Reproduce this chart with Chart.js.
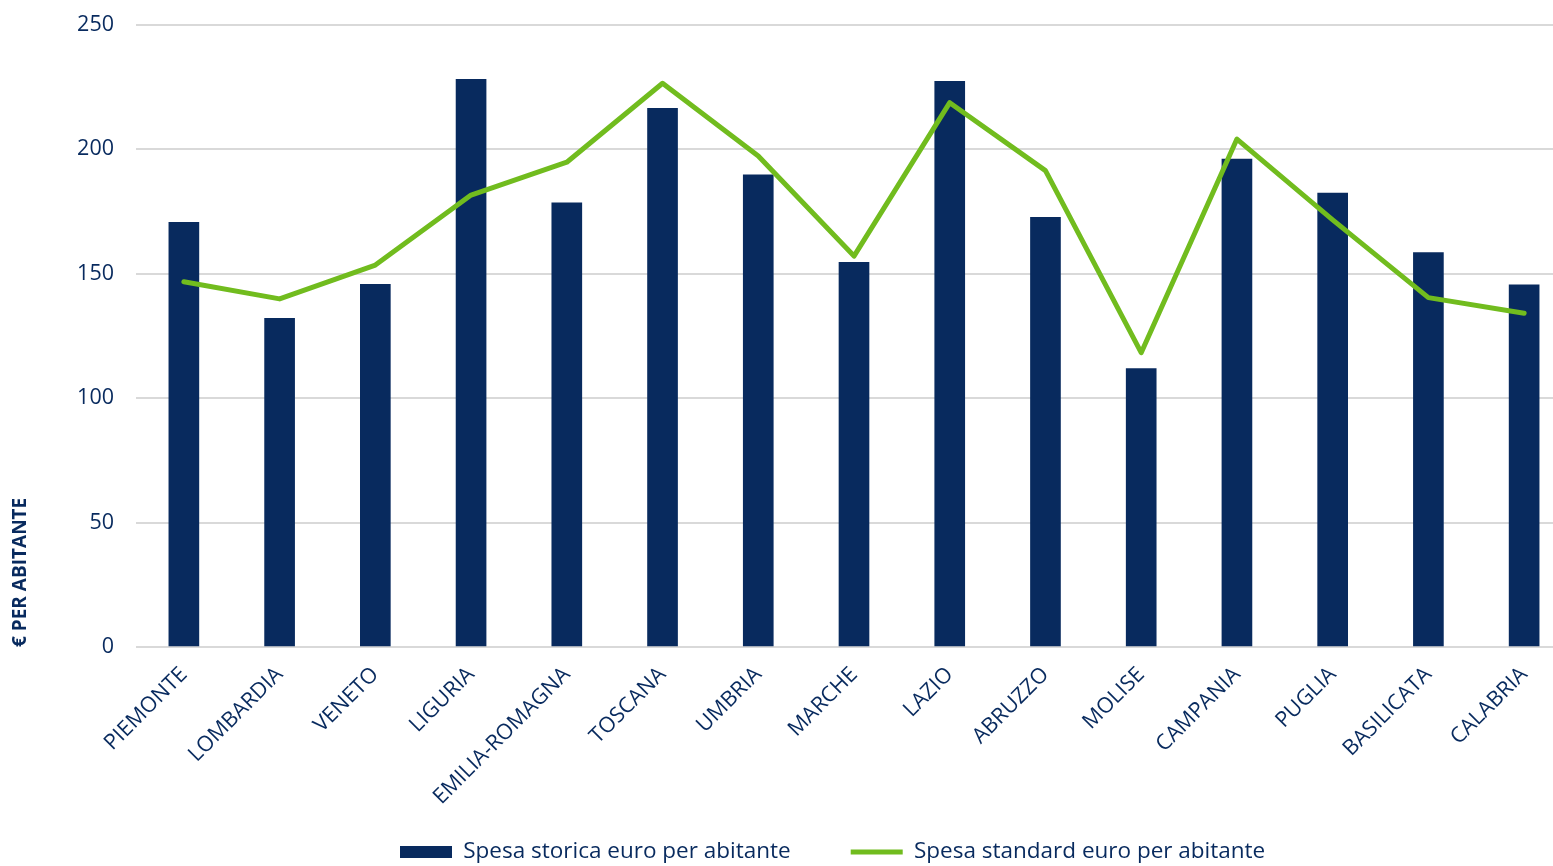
<!DOCTYPE html>
<html>
<head>
<meta charset="utf-8">
<script src="https://cdn.jsdelivr.net/npm/chart.js@4"></script>
<style>
  html, body { margin: 0; padding: 0; background: #fff; overflow: hidden; }
  #wrap { width: 1572px; height: 866px; position: relative; }
</style>
</head>
<body>
<div id="wrap"><canvas id="chart"></canvas></div>
<script>
// Spesa storica vs spesa standard, euro per abitante
const REGIONI = ['PIEMONTE', 'LOMBARDIA', 'VENETO', 'LIGURIA', 'EMILIA-ROMAGNA', 'TOSCANA', 'UMBRIA',
  'MARCHE', 'LAZIO', 'ABRUZZO', 'MOLISE', 'CAMPANIA', 'PUGLIA', 'BASILICATA', 'CALABRIA'];
const SPESA_STORICA = [170.6, 132.0, 145.7, 228.0, 178.4, 216.3, 189.6, 154.5, 227.2, 172.6, 111.8, 196.0, 182.3, 158.4, 145.4];
const SPESA_STANDARD = [146.7, 139.8, 153.4, 181.5, 194.7, 226.4, 197.2, 157.0, 218.6, 191.3, 118.2, 204.0, 171.5, 140.3, 134.0];
const Y_TICKS = [0, 50, 100, 150, 200, 250];

const NAVY = '#082a5e';
const GREEN = '#71bc1e';
const FONT = '"Open Sans", sans-serif';
const LEGEND_FONT = 22.5;
const LEGEND_GAP = 60;

// legend sits lower and further right than Chart.js would put it;
// the x scale box is short, so let its rotated labels run past it
const legendPlace = {
  id: 'legendPlace',
  afterLayout(chart) {
    const lg = chart.legend;
    if (lg) {
      lg.left = 400 - LEGEND_GAP;
      lg.top = 852 - LEGEND_GAP - LEGEND_FONT / 2;
    }
    chart.scales.x.bottom = chart.height;
  },
};

const ctx = document.getElementById('chart').getContext('2d');
new Chart(ctx, {
  data: {
    labels: REGIONI,
    datasets: [
      {
        type: 'bar',
        label: 'Spesa storica euro per abitante',
        data: SPESA_STORICA,
        backgroundColor: NAVY,
        borderWidth: 0,
        barThickness: 30,
        order: 1,
      },
      {
        type: 'line',
        label: 'Spesa standard euro per abitante',
        data: SPESA_STANDARD,
        borderColor: GREEN,
        backgroundColor: GREEN,
        borderWidth: 5,
        borderJoinStyle: 'round',
        borderCapStyle: 'round',
        pointRadius: 0,
        pointStyle: 'line',
        tension: 0,
        order: 0,
      },
    ],
  },
  options: {
    responsive: true,
    maintainAspectRatio: false,
    animation: false,
    layout: { padding: { top: 24.5, left: 0, right: 0, bottom: 0 } },
    scales: {
      x: {
        grid: { display: false, drawTicks: false },
        border: { display: false },
        ticks: {
          color: NAVY,
          font: { family: FONT, size: 21.5 },
          minRotation: 45,
          maxRotation: 45,
          padding: 15,
          autoSkip: false,
        },
        // plot bottom at 647: 866 - 647 - legend height (font + gap + 10)
        afterFit: (scale) => { scale.height = 219 - (LEGEND_FONT + LEGEND_GAP + 10); },
      },
      y: {
        min: 0,
        max: 250,
        afterBuildTicks: (scale) => { scale.ticks = Y_TICKS.map(v => ({ value: v })); },
        grid: { color: '#d9d9d9', lineWidth: 2, drawTicks: true, tickLength: 22, tickColor: 'rgba(0,0,0,0)' },
        border: { display: false },
        ticks: {
          color: NAVY,
          font: { family: FONT, size: 21.5 },
          padding: 0,
        },
        title: {
          display: true,
          text: '€ PER ABITANTE',
          align: 'start',
          color: NAVY,
          font: { family: FONT, size: 19, weight: 'bold' },
          padding: { top: 9, bottom: 0 },
        },
        afterFit: (scale) => { scale.width = 136; },
      },
    },
    plugins: {
      tooltip: { enabled: false },
      legend: {
        display: true,
        position: 'bottom',
        align: 'start',
        labels: {
          usePointStyle: true,
          boxWidth: 52,
          boxHeight: 12,
          pointStyleWidth: 52,
          padding: LEGEND_GAP,
          color: NAVY,
          font: { family: FONT, size: LEGEND_FONT },
          sort: (a, b) => a.datasetIndex - b.datasetIndex,
          generateLabels: (chart) => {
            const items = Chart.defaults.plugins.legend.labels.generateLabels(chart);
            items.forEach(it => {
              it.pointStyle = it.datasetIndex === 0 ? 'rect' : 'line';
              if (it.datasetIndex === 0) it.lineWidth = 0;
            });
            return items;
          },
        },
      },
    },
  },
  plugins: [legendPlace],
});
</script>
</body>
</html>
